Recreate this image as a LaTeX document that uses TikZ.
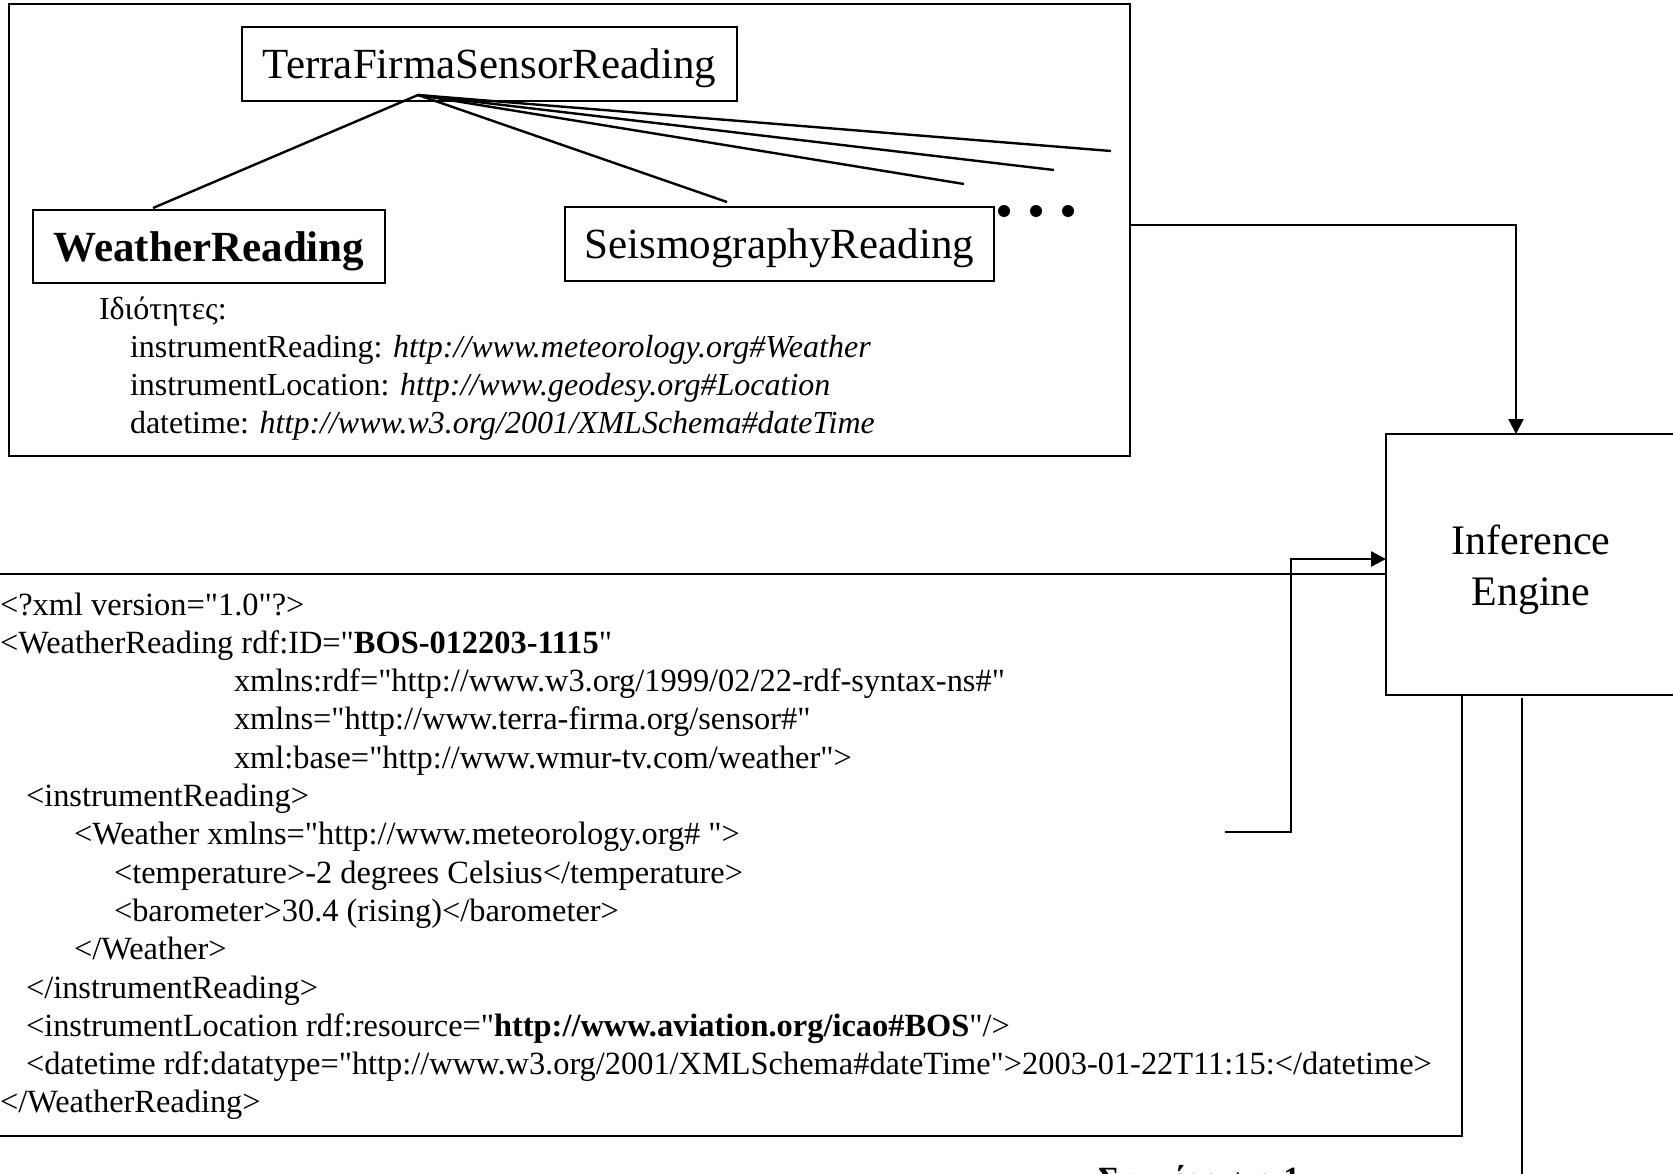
\documentclass[tikz,border=0pt]{standalone}
\usepackage{fontspec}
\setmainfont{Liberation Serif}[Ligatures=TeXOff]
\usetikzlibrary{arrows.meta}
\begin{document}
\begin{tikzpicture}[x=1pt, y=-1pt,
  every node/.style={inner sep=0pt, outer sep=0pt},
  bigtxt/.style={font=\fontsize{43}{51}\selectfont},
  proptxt/.style={font=\fontsize{32}{38.3}\selectfont},
  codetxt/.style={font=\fontsize{32.4}{38.3}\selectfont},
  frame/.style={draw, line width=2.6pt, anchor=north west},
  classbox/.style={frame, bigtxt, text depth=0pt},
  link/.style={line width=2.4pt},
  flow/.style={line width=2.4pt, -{Triangle[length=15pt, width=15pt]}},
  propline/.style={proptxt, anchor=base west},
  codeline/.style={codetxt, anchor=base west},
]
\useasboundingbox (0,0) rectangle (1673,1173);
\clip (0,0) rectangle (1673,1173);

% ---- ontology: class hierarchy with the properties of WeatherReading
\node[frame, minimum width=1121pt, minimum height=452pt] (onto) at (9,4) {};
\node[classbox, minimum width=495pt, minimum height=74pt] (tf) at (242,27) {TerraFirmaSensorReading};
\node[classbox, minimum width=352pt, minimum height=73pt,
      font=\fontsize{43}{51}\selectfont\bfseries] (wr) at (33,210) {WeatherReading};
\node[classbox, minimum width=429pt, minimum height=74pt] (sr) at (565,207) {SeismographyReading};

\coordinate (apex) at (418,95);
\coordinate (sub1) at (153,208);
\coordinate (sub2) at (727,202);
\coordinate (sub3) at (964,184);
\coordinate (sub4) at (1054,170);
\coordinate (sub5) at (1111,151);
\foreach \s in {sub1,sub2,sub3,sub4,sub5} \draw[link] (apex) -- (\s);

\foreach \x in {1004,1036,1068} \fill (\x,211) circle (6pt);

\node[propline] (props) at (99,319) {Ιδιότητες:};
\node[propline] (prop1) at (130,357) {instrumentReading: \textit{http://www.meteorology.org\#Weather}};
\node[propline] (prop2) at (130,395) {instrumentLocation: \textit{http://www.geodesy.org\#Location}};
\node[propline] (prop3) at (130,433) {datetime: \textit{http://www.w3.org/2001/XMLSchema\#dateTime}};

% ---- RDF/XML instance document
\node[frame, minimum width=1472pt, minimum height=562pt] (doc) at (-10,574) {};

\node[codeline] (l1)  at (0,615)     {<?xml version="1.0"?>};
\node[codeline] (l2)  at (0,653.3)   {<WeatherReading rdf:ID="\textbf{BOS-012203-1115}"};
\node[codeline] (l3)  at (234,691.6) {xmlns:rdf="http://www.w3.org/1999/02/22-rdf-syntax-ns\#"};
\node[codeline] (l4)  at (234,729.9) {xmlns="http://www.terra-firma.org/sensor\#"};
\node[codeline] (l5)  at (234,768.2) {xml:base="http://www.wmur-tv.com/weather">};
\node[codeline] (l6)  at (26,806.5)  {<instrumentReading>};
\node[codeline] (l7)  at (74,844.8)  {<Weather xmlns="http://www.meteorology.org\# ">};
\node[codeline] (l8)  at (114,883.1) {<temperature>-2 degrees Celsius</temperature>};
\node[codeline] (l9)  at (114,921.4) {<barometer>30.4 (rising)</barometer>};
\node[codeline] (l10) at (74,959.7)  {</Weather>};
\node[codeline] (l11) at (26,998)    {</instrumentReading>};
\node[codeline] (l12) at (26,1036.3) {<instrumentLocation rdf:resource="\textbf{http://www.aviation.org/icao\#BOS}"/>};
\node[codeline] (l13) at (26,1074.6) {<datetime rdf:datatype="http://www.w3.org/2001/XMLSchema\#dateTime">2003-01-22T11:15:</datetime>};
\node[codeline] (l14) at (0,1112.9)  {</WeatherReading>};

% ---- inference engine
\node[frame, fill=white, minimum width=290pt, minimum height=261pt] (engine) at (1386,434) {};
\node[bigtxt, font=\fontsize{42}{51}\selectfont, align=center, anchor=base] (enginetxt) at (1531,605) {Inference\\Engine};

\draw[flow] (onto.east |- 0,225) -| (1516,0 |- engine.north);

\coordinate (docout) at (1225,832);
\draw[flow] (docout) -- (1291,832) |- (engine.west |- 0,559);

\coordinate (engout) at (1522,698);
\coordinate (concl) at (1522,1180);
\draw[line width=2pt] (engout) -- (concl);

\node[codeline, font=\fontsize{32.4}{38.3}\selectfont\bfseries] (result) at (1098,1189) {Συμπέρασμα 1};
\end{tikzpicture}
\end{document}
